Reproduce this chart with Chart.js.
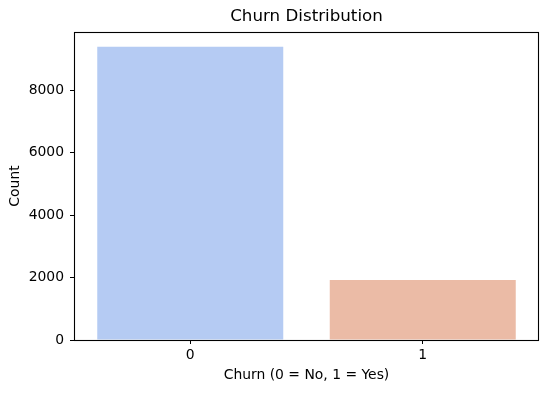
<!DOCTYPE html>
<html>
<head>
<meta charset="utf-8">
<script src="https://cdn.jsdelivr.net/npm/chart.js@4/dist/chart.umd.min.js"></script>
<style>
  html, body { margin: 0; padding: 0; background: #fff; }
  #wrap { width: 549px; height: 393px; }
</style>
</head>
<body>
<div id="wrap"><canvas id="c" width="549" height="393"></canvas></div>
<script>
const categories = ['0', '1'];
const counts = [9400, 1920];
const barColors = ['#b5cbf3', '#ebbba6'];
const yTicks = [0, 2000, 4000, 6000, 8000];
const chartTitle = 'Churn Distribution';
const xTitle = 'Churn (0 = No, 1 = Yes)';
const yTitle = 'Count';

const FONT = 'DejaVu Sans';

const framePlugin = {
  id: 'frame',
  afterDraw(chart) {
    const {ctx, chartArea: a} = chart;
    ctx.save();
    ctx.strokeStyle = '#000';
    ctx.lineWidth = 1.1;
    ctx.strokeRect(Math.round(a.left) + 0.5, Math.round(a.top) + 0.5, Math.round(a.right - a.left) - 1, Math.round(a.bottom - a.top));
    ctx.fillStyle = '#000';
    ctx.font = '16.7px "' + FONT + '"';
    ctx.textAlign = 'center';
    ctx.textBaseline = 'middle';
    ctx.fillText(chartTitle, (a.left + a.right) / 2, 17);
    ctx.restore();
  }
};

new Chart(document.getElementById('c'), {
  type: 'bar',
  data: {
    labels: categories,
    datasets: [{
      data: counts,
      backgroundColor: barColors,
      borderWidth: 0,
      barPercentage: 1,
      categoryPercentage: 0.8
    }]
  },
  options: {
    responsive: false,
    animation: false,
    devicePixelRatio: 1,
    layout: { padding: { top: 32, right: 10, left: 0, bottom: 0 } },
    plugins: { legend: { display: false }, tooltip: { enabled: false }, title: { display: false } },
    scales: {
      x: {
        type: 'category',
        offset: true,
        grid: { display: true, drawOnChartArea: false, drawTicks: true, tickLength: 4, color: '#000', offset: false },
        border: { display: false },
        ticks: { color: '#000', font: { family: FONT, size: 13.9 }, padding: 3 },
        title: { display: true, text: xTitle, color: '#000', font: { family: FONT, size: 13.9 }, padding: { top: 4, bottom: 9 } },
        afterFit(s) { s.height = 53; }
      },
      y: {
        min: 0,
        max: 9870,
        grid: { display: true, drawOnChartArea: false, drawTicks: true, tickLength: 4, color: '#000' },
        border: { display: false },
        afterBuildTicks(s) { s.ticks = yTicks.map(v => ({ value: v })); },
        ticks: {
          color: '#000',
          font: { family: FONT, size: 13.9 },
          padding: 6,
          callback: (v) => String(v)
        },
        title: { display: true, text: yTitle, color: '#000', font: { family: FONT, size: 13.9 }, padding: { top: 7, bottom: 4 } },
        afterFit(s) { s.width = 74; }
      }
    }
  },
  plugins: [framePlugin]
});
</script>
</body>
</html>
